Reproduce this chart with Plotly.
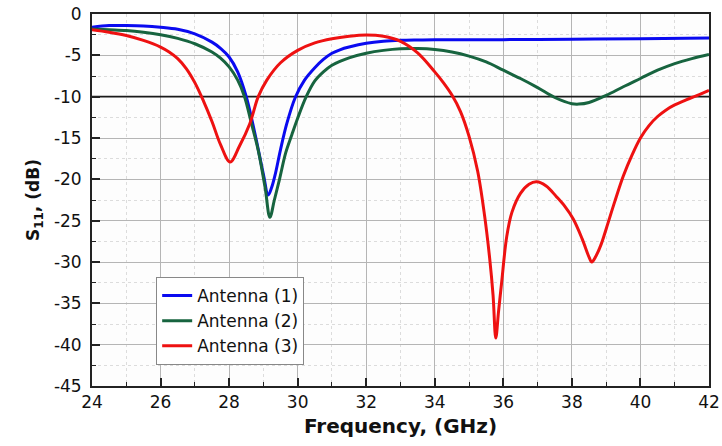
import plotly.graph_objects as go

# ---- data ----
freq_a1 = [24, 24.5, 25, 25.5, 26, 26.5, 27, 27.5, 27.75, 28, 28.25, 28.5, 28.75, 29.0, 29.14, 29.24, 29.34, 29.5,
           29.68, 29.93, 30.2, 30.5, 30.75, 31.0, 31.25, 31.5, 32, 32.5, 33, 33.5, 34, 36, 38, 40, 42]
s11_a1 = [-1.6, -1.4, -1.4, -1.45, -1.6, -1.85, -2.4, -3.4, -4.15, -5.2, -7.0, -10, -14.4, -19.4, -21.9, -21.0, -19.5, -16.4,
          -13.3, -10.1, -8.0, -6.5, -5.5, -4.75, -4.3, -4.0, -3.55, -3.3, -3.18, -3.14, -3.12, -3.1, -3.05, -3.0, -2.9]

freq_a2 = [24, 24.5, 25, 25.5, 26, 26.5, 27, 27.5, 27.75, 28, 28.25, 28.45, 28.65, 28.85, 29.05, 29.19, 29.32, 29.47,
           29.65, 29.83, 30.0, 30.25, 30.5, 30.75, 31.0, 31.25, 31.5, 32, 32.5, 33, 33.5, 34, 34.5, 35, 35.5, 36, 36.5,
           37, 37.5, 38, 38.2, 38.5, 39, 39.5, 40, 40.5, 41, 41.5, 42]
s11_a2 = [-1.8, -1.9, -2.0, -2.2, -2.5, -2.95, -3.6, -4.6, -5.35, -6.4, -8.0, -10, -13.2, -16.5, -21, -24.6, -22.5, -20,
          -16.8, -14.6, -12.6, -10, -8.1, -7.0, -6.2, -5.7, -5.3, -4.75, -4.4, -4.2, -4.18, -4.3, -4.6, -5.1, -5.8, -6.8, -7.8,
          -8.9, -10.1, -10.85, -10.9, -10.7, -9.85, -8.8, -7.8, -6.8, -6.0, -5.4, -4.9]

freq_a3 = [24, 24.5, 25, 25.5, 26, 26.25, 26.5, 26.75, 27.0, 27.25, 27.5, 27.75, 28.03, 28.3, 28.6, 28.85, 29.1, 29.5,
           30.0, 30.5, 31.0, 31.5, 32, 32.5, 33, 33.5, 34, 34.25, 34.5, 34.75, 35.0, 35.25, 35.45, 35.6, 35.7, 35.78,
           35.86, 35.95, 36.1, 36.25, 36.5, 36.75, 36.97, 37.25, 37.55, 37.8, 38.04, 38.3, 38.5, 38.58, 38.7, 38.85,
           39.0, 39.25, 39.5, 39.75, 40.0, 40.25, 40.5, 40.75, 41.0, 41.25, 41.5, 41.75, 42]
s11_a3 = [-1.9, -2.2, -2.6, -3.2, -4.0, -4.6, -5.4, -6.6, -8.3, -10.5, -13.0, -15.8, -17.9, -16.0, -13.3, -10, -8.0, -5.9,
          -4.4, -3.5, -3.0, -2.7, -2.55, -2.7, -3.3, -4.7, -7.0, -8.3, -9.8, -11.8, -14.8, -19.0, -24.3, -29.5, -34, -39.2,
          -36, -32.5, -26.9, -24.0, -21.7, -20.6, -20.3, -20.8, -22.1, -23.3, -24.8, -27.2, -29.4, -30, -29.3, -27.9,
          -26.0, -22.7, -19.6, -17.1, -15.0, -13.5, -12.4, -11.6, -11.0, -10.55, -10.1, -9.7, -9.25]

series_names = ["Antenna (1)", "Antenna (2)", "Antenna (3)"]
series_colors = ["#0a0af0", "#17643f", "#ee1111"]
threshold_db = -10

x_range = [24, 42]
y_range = [-45, 0]
x_ticks = [24, 26, 28, 30, 32, 34, 36, 38, 40, 42]
y_ticks = [0, -5, -10, -15, -20, -25, -30, -35, -40, -45]

FONT = "DejaVu Sans, Liberation Sans, sans-serif"

fig = go.Figure()
# -10 dB reference line (drawn first so the curves sit on top of it)
fig.add_trace(go.Scatter(x=x_range, y=[threshold_db] * len(x_range), mode="lines", showlegend=False,
                         hoverinfo="skip", line=dict(color="#1a1a1a", width=1.6)))
for fx, sy, name, col in zip([freq_a1, freq_a2, freq_a3], [s11_a1, s11_a2, s11_a3], series_names, series_colors):
    fig.add_trace(go.Scatter(x=fx, y=sy, mode="lines", name=name,
                             line=dict(color=col, width=3, shape="spline", smoothing=1.0)))

axis_common = dict(
    showline=True, linecolor="#222222", linewidth=1.8, mirror=True,
    ticks="inside", ticklen=8, tickwidth=1.5, tickcolor="#222222",
    showgrid=True, gridcolor="#b5b5b5", gridwidth=1,
    zeroline=False, automargin=False,
    tickfont=dict(family=FONT, size=17, color="#111111"),
)

fig.update_xaxes(
    range=x_range, tickvals=x_ticks, ticktext=[str(v) for v in x_ticks],
    minor=dict(dtick=1, ticks="inside", ticklen=4, tickwidth=1.2, tickcolor="#222222",
               showgrid=True, gridcolor="#dcdcdc", griddash="dot", gridwidth=1),
    title=dict(text="<b>Frequency, (GHz)</b>", font=dict(family=FONT, size=20, color="#111111"), standoff=8),
    **axis_common,
)
fig.update_yaxes(
    range=y_range, tickvals=y_ticks, ticktext=[str(v) for v in y_ticks],
    minor=dict(dtick=2.5, ticks="inside", ticklen=4, tickwidth=1.2, tickcolor="#222222",
               showgrid=True, gridcolor="#dcdcdc", griddash="dot", gridwidth=1),
    title=dict(text="<b>S<sub>11</sub>, (dB)</b>", font=dict(family=FONT, size=17, color="#111111"), standoff=10),
    ticklabelstandoff=5,
    **axis_common,
)

fig.update_layout(
    width=722, height=446,
    margin=dict(l=92, r=13, t=14, b=60),
    paper_bgcolor="white", plot_bgcolor="#fdfdfd",
    showlegend=True,
    legend=dict(x=0.104, y=0.293, xanchor="left", yanchor="top",
                bgcolor="white", bordercolor="#888888", borderwidth=1,
                font=dict(family=FONT, size=17, color="#111111"),
                tracegroupgap=0),
)

fig.write_html("out.html")
